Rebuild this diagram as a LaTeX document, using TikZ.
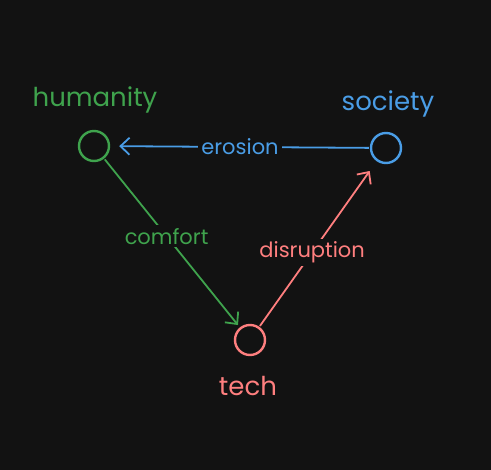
\documentclass[tikz,border=0pt]{standalone}
\usepackage{fontspec}
\setmainfont{Poppins}
\usetikzlibrary{arrows.meta}

\definecolor{bgcol}{HTML}{121212}
\definecolor{humgreen}{HTML}{3FA34D}
\definecolor{socblue}{HTML}{4A9DE6}
\definecolor{techred}{HTML}{FF7F7F}

\tikzset{
  dot/.style={circle,draw,line width=2.4pt,minimum size=30pt,inner sep=0pt},
  title/.style={font=\fontsize{26}{28}\selectfont},
  lbl/.style={fill=bgcol,inner sep=3pt,font=\fontsize{21}{23}\selectfont},
  link/.style={line width=1.8pt,-{Straight Barb[length=9pt,width=17pt,line width=1.8pt]},shorten <=1pt}
}

\begin{document}
\begin{tikzpicture}[x=1pt,y=-1pt]
  \fill[bgcol] (0,0) rectangle (491,470);
  \useasboundingbox (0,0) rectangle (491,470);
  % the three corners
  \node[dot,draw=humgreen] (humanity) at (94,146) {};
  \node[dot,draw=socblue] (society) at (386,148) {};
  \node[dot,draw=techred] (tech) at (250,340) {};
  \node[title,text=humgreen] (humanitytext) at (95,100) {humanity};
  \node[title,text=socblue] (societytext) at (388,104) {society};
  \node[title,text=techred] (techtext) at (248,386) {tech};
  % the three links
  \draw[link,socblue,shorten >=9pt] (society) -- node[lbl,text=socblue] (erosion) {erosion} (humanity);
  \draw[link,humgreen,shorten >=3pt] (humanity) -- node[lbl,text=humgreen,pos=0.46] (comfort) {comfort} (tech);
  \draw[link,techred,shorten >=12pt] (tech) -- node[lbl,text=techred,pos=0.45] (disruption) {disruption} (society);
\end{tikzpicture}
\end{document}
